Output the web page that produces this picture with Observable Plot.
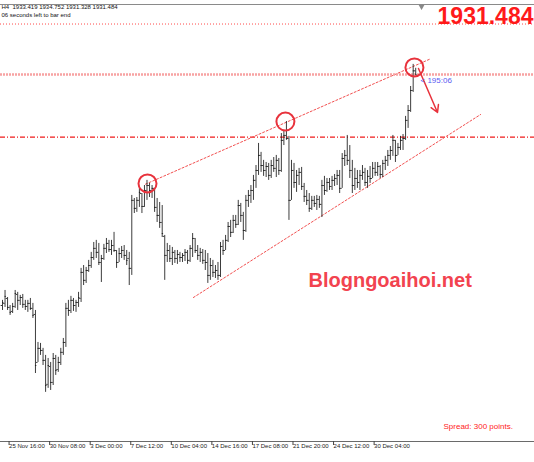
<!DOCTYPE html>
<html>
<head>
<meta charset="utf-8">
<script src="https://cdn.jsdelivr.net/npm/d3@7"></script>
<script src="https://cdn.jsdelivr.net/npm/@observablehq/plot@0.6"></script>
<style>
  html, body { margin: 0; padding: 0; background: #fff; }
  #chart { width: 534px; height: 462px; overflow: hidden; }
</style>
</head>
<body>
<div id="chart"></div>
<script>
// XAUUSD H4 bars (bar index 0..163)
const highs = [1812.9,1818.1,1814.4,1810.2,1811.3,1818.1,1817.1,1815.5,1816.0,1812.9,1812.9,1813.9,1811.3,1807.6,1790.8,1790.3,1787.7,1784.0,1782.4,1780.3,
1785.0,1784.0,1783.0,1787.7,1792.9,1811.3,1812.9,1815.0,1813.9,1812.9,1817.1,1829.7,1831.2,1830.2,1833.9,1838.1,1843.3,1844.4,1842.8,1836.5,
1842.3,1845.4,1844.4,1844.4,1848.6,1839.1,1840.2,1841.2,1841.7,1839.1,1838.1,1868.0,1866.4,1866.9,1871.7,1869.0,1873.2,1875.9,1874.3,1873.2,
1871.7,1866.4,1864.3,1862.7,1847.0,1842.8,1841.7,1840.7,1839.1,1839.1,1838.1,1837.5,1839.6,1839.1,1841.7,1848.0,1845.4,1841.7,1840.2,1839.6,
1839.1,1837.5,1834.9,1833.9,1831.2,1832.8,1843.3,1844.4,1847.0,1853.8,1854.9,1857.5,1857.5,1865.4,1863.8,1859.1,1868.0,1870.6,1873.2,1878.5,
1883.7,1895.3,1890.6,1886.4,1885.3,1884.8,1886.4,1887.9,1889.0,1887.4,1900.5,1902.1,1906.8,1899.0,1886.4,1884.8,1881.1,1882.2,1882.7,1874.3,
1870.6,1869.0,1867.5,1867.5,1868.0,1867.5,1875.9,1878.0,1876.9,1876.9,1878.0,1879.0,1881.1,1881.1,1890.0,1891.6,1899.5,1894.2,1886.4,1882.2,
1881.1,1881.1,1883.7,1882.2,1881.1,1883.2,1885.3,1885.3,1885.3,1883.7,1886.4,1888.5,1891.6,1893.7,1899.5,1896.9,1895.3,1899.0,1900.0,1909.5,
1915.2,1925.2,1936.8,1934.752];
const lows = [1807.6,1809.2,1807.6,1805.0,1806.0,1808.7,1807.6,1810.2,1808.7,1807.6,1806.6,1807.6,1803.4,1774.5,1780.3,1784.0,1778.7,1764.6,1766.7,1765.6,
1768.2,1773.5,1775.1,1778.7,1784.0,1788.2,1804.5,1806.0,1807.1,1806.6,1809.2,1811.8,1820.7,1821.8,1827.6,1829.7,1833.9,1834.9,1831.2,1822.3,
1833.9,1837.5,1838.1,1836.5,1838.1,1829.7,1832.8,1834.9,1833.9,1831.2,1820.7,1826.0,1858.5,1859.1,1861.7,1858.5,1861.7,1865.4,1866.9,1866.4,
1859.1,1853.8,1850.7,1845.9,1823.4,1832.8,1832.8,1831.2,1832.3,1831.8,1832.8,1832.8,1833.3,1831.8,1832.8,1835.4,1837.5,1833.9,1832.8,1831.8,
1828.6,1821.8,1823.4,1824.9,1824.4,1823.4,1824.9,1836.5,1839.1,1843.3,1845.9,1848.0,1850.7,1852.2,1853.8,1844.4,1848.6,1861.7,1863.8,1865.4,
1871.7,1878.5,1880.1,1878.0,1877.4,1875.9,1876.9,1880.1,1877.4,1878.5,1880.1,1894.2,1896.9,1854.9,1865.4,1871.7,1869.6,1873.2,1870.6,1864.3,
1862.7,1859.1,1860.1,1861.7,1860.1,1861.2,1856.4,1868.0,1869.6,1870.6,1870.6,1872.7,1873.2,1869.0,1871.7,1883.2,1883.7,1876.9,1869.0,1870.6,
1871.7,1870.6,1875.9,1872.7,1871.7,1874.3,1876.9,1878.0,1878.0,1876.9,1877.4,1881.1,1883.2,1886.4,1888.5,1885.3,1889.0,1891.6,1891.6,1896.9,
1903.2,1911.6,1922.1,1931.328];
const opens = [1810.2,1811.3,1813.9,1809.2,1807.1,1809.7,1816.0,1812.9,1814.4,1810.8,1809.7,1811.3,1808.7,1805.5,1780.3,1787.7,1786.6,1781.4,1768.8,1778.2,
1769.8,1782.4,1776.6,1780.3,1785.6,1790.8,1808.7,1807.6,1812.9,1810.2,1811.8,1813.9,1827.6,1823.4,1828.6,1831.2,1835.4,1840.2,1838.1,1832.8,
1834.9,1840.2,1842.8,1839.6,1841.7,1839.1,1832.8,1837.5,1839.1,1836.5,1834.9,1829.7,1865.4,1861.2,1865.4,1869.0,1862.2,1870.6,1873.2,1870.6,
1871.7,1861.7,1857.5,1853.8,1846.5,1836.5,1839.1,1834.9,1838.1,1834.9,1837.0,1835.4,1836.5,1838.1,1833.9,1840.2,1845.4,1839.1,1836.5,1838.1,
1833.9,1832.8,1826.0,1831.2,1827.6,1828.6,1826.0,1841.2,1839.1,1844.4,1851.7,1848.6,1854.9,1852.8,1862.7,1857.5,1849.6,1865.4,1868.0,1870.6,
1875.9,1881.1,1889.0,1883.7,1881.1,1883.2,1878.5,1883.7,1882.2,1886.4,1881.1,1896.9,1899.5,1897.9,1865.4,1881.1,1874.8,1878.5,1880.1,1872.7,
1867.5,1865.4,1861.2,1865.4,1863.8,1865.9,1863.3,1873.2,1870.6,1874.8,1872.7,1875.9,1876.9,1878.5,1871.7,1887.4,1889.0,1886.4,1881.1,1873.2,
1876.9,1874.8,1878.5,1880.1,1874.8,1878.0,1876.9,1882.2,1880.1,1883.2,1879.0,1884.8,1886.4,1889.0,1891.6,1896.9,1889.0,1893.2,1896.9,1897.9,
1907.4,1912.6,1923.1,1933.419];
const closes = [1811.8,1815.0,1809.2,1806.6,1809.7,1816.5,1812.9,1814.4,1810.8,1809.7,1811.3,1808.7,1805.0,1778.7,1787.7,1786.6,1781.4,1768.2,1778.7,1769.8,
1782.4,1776.1,1780.3,1785.6,1790.8,1808.7,1807.6,1812.9,1810.2,1811.8,1814.4,1827.6,1823.4,1828.6,1831.2,1835.4,1840.2,1838.1,1832.8,1834.9,
1840.2,1842.8,1839.6,1841.7,1839.1,1832.8,1837.5,1839.1,1836.5,1833.9,1829.7,1865.4,1861.2,1865.4,1869.6,1862.2,1870.6,1873.2,1870.6,1871.7,
1861.7,1857.5,1853.8,1848.0,1836.5,1839.1,1834.9,1838.1,1834.9,1837.0,1835.4,1836.5,1838.1,1833.9,1840.2,1845.4,1839.1,1836.5,1838.1,1833.9,
1832.8,1826.0,1831.2,1827.6,1828.6,1826.0,1841.2,1839.1,1844.4,1851.7,1848.6,1854.9,1852.8,1862.7,1857.5,1849.6,1865.4,1868.0,1870.6,1875.9,
1881.1,1889.0,1883.7,1881.1,1883.2,1878.5,1883.7,1882.2,1886.4,1881.1,1896.9,1899.5,1897.9,1865.4,1881.1,1874.8,1878.5,1880.1,1872.7,1867.5,
1865.4,1861.2,1865.4,1863.8,1865.9,1863.3,1873.2,1870.6,1874.8,1872.7,1875.9,1876.9,1878.5,1871.7,1887.4,1889.0,1886.4,1881.1,1873.2,1876.9,
1874.8,1878.5,1880.1,1874.8,1878.0,1876.9,1882.2,1880.1,1883.2,1879.0,1884.8,1886.4,1889.0,1891.6,1896.9,1889.0,1893.2,1896.9,1897.9,1907.4,
1912.6,1923.1,1933.4,1931.484];

// time axis
const tickIndex = [2, 18, 34, 50, 66, 82, 98, 114, 130, 146];
const tickLabels = ["25 Nov 16:00","30 Nov 08:00","3 Dec 00:00","7 Dec 12:00","10 Dec 04:00","14 Dec 16:00","17 Dec 08:00","21 Dec 20:00","24 Dec 12:00","30 Dec 04:00"];

// horizontal levels
const bidPrice = 1931.484;
const dottedLevels = [1958.0];
const dashDotLevels = [1898.6];

// trend channel lines [barIndex, price]
const upperTrend = [[56.4, 1873.9], [168.8, 1939.7]];
const lowerTrend = [[75.3, 1814.4], [188.6, 1910.5]];

// highlighted highs
const highlightIdx = [57.2, 111.6, 162.5];
const highlightPrice = [1874.3, 1906.8, 1935.2];

// arrow [barIndex, price]
const arrowFrom = [164.1, 1934.65];
const arrowTo = [171.6, 1911.55];

// texts
const headerLine1 = "H4  1933.419 1934.752 1931.328 1931.484";
const headerLine2 = "06 seconds left to bar end";
const priceLabel = "1931.484";
const watermark = "Blogngoaihoi.net";
const spreadText = "Spread: 300 points.";
const timerText = "< 195:06";
const timerPos = [164.9, 1928.3];

const bars = highs.map((h, i) => ({i, high: h, low: lows[i], open: opens[i], close: closes[i]}));
const highlights = highlightIdx.map((x, k) => ({x, y: highlightPrice[k]}));
const yMin = 1738.8, yMax = 1968.25;
const font = "'Liberation Sans', Arial, sans-serif";

const svg = Plot.plot({
  width: 534, height: 462,
  marginTop: 4, marginBottom: 21, marginLeft: 0, marginRight: 0,
  style: {fontFamily: font, background: "#fff"},
  x: {domain: [-0.789, 209.86]},
  y: {domain: [yMin, yMax], axis: null},
  marks: [
    Plot.ruleY([yMax], {stroke: "#8a8a8a", strokeWidth: 1}),
    Plot.ruleY([yMin], {stroke: "#6a6a6a", strokeWidth: 1}),
    Plot.axisX({ticks: tickIndex, tickFormat: d => tickLabels[tickIndex.indexOf(d)],
      tickSize: 4, tickPadding: -2, textAnchor: "start", dx: 1.5, fontSize: 6, fill: "#222", stroke: "#444"}),
    Plot.ruleY(dottedLevels, {stroke: "#ff4a4a", strokeDasharray: "1,2", strokeWidth: 1}),
    Plot.ruleY(dashDotLevels, {stroke: "#f01c1c", strokeDasharray: "5,2,1,2", strokeWidth: 1.1}),
    Plot.line(upperTrend, {x: d => d[0], y: d => d[1], stroke: "#f25050", strokeDasharray: "2,2", strokeWidth: 1}),
    Plot.line(lowerTrend, {x: d => d[0], y: d => d[1], stroke: "#f25050", strokeDasharray: "2,2", strokeWidth: 1}),
    Plot.ruleY([bidPrice], {stroke: "#f7a3a3", strokeWidth: 2.5, strokeDasharray: "2,1"}),
    Plot.ruleX(bars, {x: "i", y1: "low", y2: "high", stroke: "#1a1a1a", strokeWidth: 0.85}),
    Plot.ruleY(bars, {y: "open", x1: d => d.i - 0.55, x2: "i", stroke: "#1a1a1a", strokeWidth: 0.85}),
    Plot.ruleY(bars, {y: "close", x1: "i", x2: d => d.i + 0.55, stroke: "#1a1a1a", strokeWidth: 0.85}),
    Plot.dot(highlights, {x: "x", y: "y", r: 9, stroke: "#e8323c", strokeWidth: 2, fill: "none", ariaLabel: "highlight"}),
    Plot.arrow([{a: arrowFrom, b: arrowTo}], {x1: d => d.a[0], y1: d => d.a[1], x2: d => d.b[0], y2: d => d.b[1],
      stroke: "#e8323c", strokeWidth: 1.5, headLength: 8}),
    Plot.text([timerText], {x: timerPos[0], y: timerPos[1], text: d => d, fill: "#5a5af2", fontSize: 8, textAnchor: "start"}),
    Plot.text([headerLine1], {frameAnchor: "top-left", text: d => d, dx: 1, dy: 0.7, lineAnchor: "top", fontSize: 6, fill: "#111", textAnchor: "start"}),
    Plot.text([headerLine2], {frameAnchor: "top-left", text: d => d, dx: 1, dy: 8.7, lineAnchor: "top", fontSize: 6, fill: "#111", textAnchor: "start"}),
    Plot.text([priceLabel], {frameAnchor: "top-right", text: d => d, dx: -1, dy: 3.3, lineAnchor: "top", fontSize: 23, fontWeight: "bold", fill: "#ff1a1a", textAnchor: "end"}),
    Plot.text([watermark], {frameAnchor: "top-left", text: d => d, dx: 308, dy: 268, lineAnchor: "top", fontSize: 20, fontWeight: "bold", fill: "#f2434f", textAnchor: "start", ariaLabel: "watermark"}),
    Plot.text([spreadText], {frameAnchor: "top-left", text: d => d, dx: 443, dy: 418.7, lineAnchor: "top", fontSize: 8, fill: "#f22", textAnchor: "start"}),
    Plot.dot([165.3], {x: d => d, y: yMax, dy: 2, symbol: "triangle", rotate: 180, r: 2.2, fill: "#888", stroke: "none"})
  ]
});

// ellipse outlines for highlights
const radii = [[11.5, 7.5], [9, 8.5], [8.7, 7.5]];
const ns = "http://www.w3.org/2000/svg";
const hg = svg.querySelector('g[aria-label="highlight"]');
if (hg) {
  hg.querySelectorAll("circle").forEach((c, k) => {
    let cx = c.getAttribute("cx"), cy = c.getAttribute("cy");
    if (cx == null) {
      const m = /translate\(([-\d.]+),\s*([-\d.]+)\)/.exec(c.getAttribute("transform") || "");
      if (m) { cx = m[1]; cy = m[2]; }
    }
    const e = document.createElementNS(ns, "ellipse");
    e.setAttribute("cx", cx); e.setAttribute("cy", cy);
    e.setAttribute("rx", radii[k][0]); e.setAttribute("ry", radii[k][1]);
    c.replaceWith(e);
  });
}
// soft drop shadow for watermark
const defs = document.createElementNS(ns, "defs");
defs.innerHTML = '<filter id="wmshadow" x="-10%" y="-50%" width="125%" height="220%"><feDropShadow dx="2" dy="3" stdDeviation="1.4" flood-color="#777" flood-opacity="0.45"/></filter>';
svg.insertBefore(defs, svg.firstChild);
const wg = svg.querySelector('g[aria-label="watermark"]');
if (wg) wg.setAttribute("filter", "url(#wmshadow)");

document.getElementById("chart").appendChild(svg);
</script>
</body>
</html>
